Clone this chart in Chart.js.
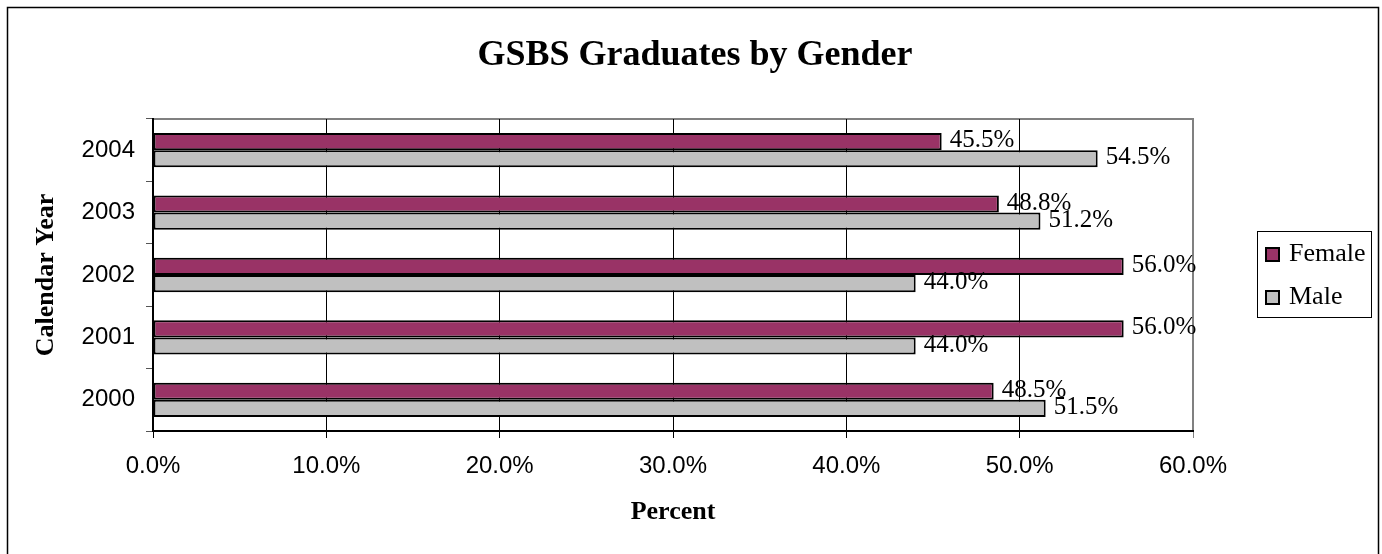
<!DOCTYPE html>
<html>
<head>
<meta charset="utf-8">
<script src="https://cdn.jsdelivr.net/npm/chart.js@4.4.1/dist/chart.umd.min.js"></script>
<style>
  html, body { margin: 0; padding: 0; background: #fff; }
  #wrap { width: 1382px; height: 554px; position: relative; }
</style>
</head>
<body>
<div id="wrap"><canvas id="grap1"></canvas></div>
<script>
var years = ["2004", "2003", "2002", "2001", "2000"];
var female = [45.5, 48.8, 56.0, 56.0, 48.5];
var male = [54.5, 51.2, 44.0, 44.0, 51.5];
var xTicks = [0, 10, 20, 30, 40, 50, 60];
var chartTitle = 'GSBS Graduates by Gender';

var serif = "'Liberation Serif', 'Times New Roman', serif";
var sans = "'Liberation Sans', Arial, sans-serif";

// frame around everything, gray plot border, title centred on the page
var framePlugin = {
    id: 'frame',
    beforeDraw: function (chart) {
        var c = chart.ctx;
        var a = chart.chartArea;
        c.save();
        c.strokeStyle = '#000';
        c.lineWidth = 1.5;
        c.strokeRect(7.5, 7.5, 1371, 560);
        c.strokeStyle = '#808080';
        c.lineWidth = 2;
        c.beginPath();
        c.moveTo(a.left, a.top);
        c.lineTo(a.right, a.top);
        c.lineTo(a.right, a.bottom);
        c.stroke();
        c.fillStyle = '#000';
        c.font = "bold 36px " + serif;
        c.textAlign = 'center';
        c.textBaseline = 'alphabetic';
        c.fillText(chartTitle, 695, 65);
        c.restore();
    }
};

// value labels at bar ends
var labelPlugin = {
    id: 'barLabels',
    afterDatasetsDraw: function (chart) {
        var c = chart.ctx;
        c.save();
        c.font = "25px " + serif;
        c.fillStyle = '#000';
        c.textAlign = 'left';
        c.textBaseline = 'middle';
        chart.data.datasets.forEach(function (ds, i) {
            var meta = chart.getDatasetMeta(i);
            meta.data.forEach(function (bar, j) {
                c.fillText(ds.data[j].toFixed(1) + '%', bar.x + 8, bar.y - 1);
            });
        });
        c.restore();
    }
};

// boxed legend on the right
var legendPlugin = {
    id: 'boxLegend',
    afterDraw: function (chart) {
        var c = chart.ctx;
        c.save();
        c.strokeStyle = '#000';
        c.lineWidth = 1;
        c.strokeRect(1257.5, 231.5, 114, 86);
        c.font = "26px " + serif;
        c.textBaseline = 'middle';
        c.textAlign = 'left';
        var rows = [254, 297];
        chart.data.datasets.forEach(function (ds, i) {
            var y = rows[i];
            c.fillStyle = ds.backgroundColor;
            c.fillRect(1266, y - 6, 13, 13);
            c.lineWidth = 2;
            c.strokeRect(1266, y - 6, 13, 13);
            c.fillStyle = '#000';
            c.fillText(ds.label, 1289, y);
        });
        c.restore();
    }
};

var ctx = document.getElementById("grap1").getContext("2d");
var myChart = new Chart(ctx, {
    type: 'bar',
    data: {
        labels: years,
        datasets: [{
            label: 'Female',
            data: female,
            backgroundColor: '#993366',
            borderColor: '#000',
            borderWidth: 2,
            borderSkipped: false
        }, {
            label: 'Male',
            data: male,
            backgroundColor: '#C0C0C0',
            borderColor: '#000',
            borderWidth: 2,
            borderSkipped: false
        }]
    },
    plugins: [framePlugin, labelPlugin, legendPlugin],
    options: {
        indexAxis: 'y',
        responsive: true,
        maintainAspectRatio: false,
        animation: false,
        datasets: {
            bar: { categoryPercentage: 0.55, barPercentage: 1.0 }
        },
        layout: {
            padding: { left: 0, right: 189, top: 119, bottom: 0 }
        },
        plugins: {
            legend: { display: false },
            tooltip: { enabled: false },
            title: { display: false }
        },
        scales: {
            x: {
                min: 0,
                max: 60,
                afterFit: function (scale) { scale.height = 123; },
                afterBuildTicks: function (scale) {
                    scale.ticks = xTicks.map(function (v) { return { value: v }; });
                },
                ticks: {
                    color: '#000',
                    padding: 14,
                    font: { family: sans, size: 24 },
                    callback: function (v) { return v.toFixed(1) + '%'; }
                },
                grid: {
                    color: function (c) { return c.tick && c.tick.value === 60 ? '#808080' : '#000'; },
                    lineWidth: 1,
                    tickLength: 7
                },
                border: { color: '#000', width: 2 },
                title: {
                    display: true,
                    text: 'Percent',
                    color: '#000',
                    font: { family: serif, size: 26, weight: 'bold', lineHeight: 1.2 },
                    padding: { top: 0, bottom: 26 }
                }
            },
            y: {
                afterFit: function (scale) { scale.width = 153; },
                ticks: {
                    color: '#000',
                    padding: 11,
                    font: { family: sans, size: 24 }
                },
                grid: {
                    offset: true,
                    drawOnChartArea: false,
                    color: '#555',
                    tickLength: 7
                },
                border: { color: '#000', width: 2 },
                title: {
                    display: true,
                    text: 'Calendar Year',
                    color: '#000',
                    font: { family: serif, size: 26, weight: 'bold', lineHeight: 1.2 },
                    padding: { top: 31, bottom: 0 }
                }
            }
        }
    }
});
</script>
</body>
</html>
